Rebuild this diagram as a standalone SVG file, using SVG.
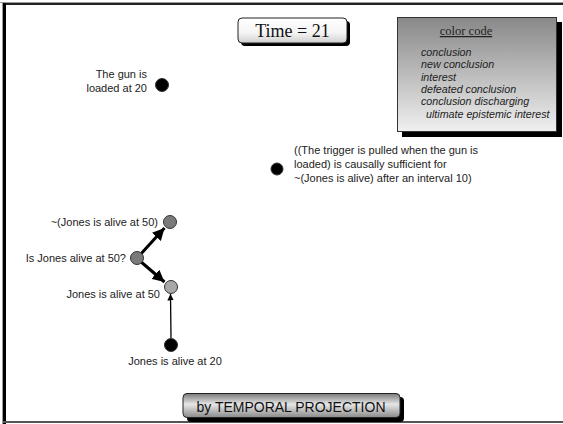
<svg xmlns="http://www.w3.org/2000/svg" width="563" height="424" viewBox="0 0 563 424">
  <style>
    .lbl { font-family: "Liberation Sans", Arial, sans-serif; font-size: 11px; fill: #222; }
    .key { font-family: "Liberation Sans", Arial, sans-serif; font-size: 10.7px; font-style: italic; fill: #222; }
    .dark { fill: #000; stroke: #333; stroke-width: 1; }
    .mid { fill: #7a7a7a; stroke: #333; stroke-width: 1; }
    .light { fill: #a8a8a8; stroke: #333; stroke-width: 1; }
    .thick { stroke: #000; stroke-width: 3; fill: none; }
    .thin { stroke: #000; stroke-width: 1.3; fill: none; }
  </style>
  <defs>
    <linearGradient id="keyFill" x1="0" y1="0" x2="0" y2="1">
      <stop offset="0" stop-color="#888888"/>
      <stop offset="1" stop-color="#f0f0f0"/>
    </linearGradient>
    <linearGradient id="timeFill" x1="0" y1="0" x2="0" y2="1">
      <stop offset="0" stop-color="#ffffff"/>
      <stop offset="0.6" stop-color="#f4f4f4"/>
      <stop offset="1" stop-color="#cfcfcf"/>
    </linearGradient>
    <linearGradient id="btnFill" x1="0" y1="0" x2="0" y2="1">
      <stop offset="0" stop-color="#7a7a7a"/>
      <stop offset="0.45" stop-color="#e6e6e6"/>
      <stop offset="1" stop-color="#8a8a8a"/>
    </linearGradient>
    <marker id="bigHead" viewBox="0 0 10 10" refX="10" refY="5" markerWidth="4" markerHeight="4" markerUnits="strokeWidth" orient="auto">
      <path d="M0,0 L10,5 L0,10 z" fill="#000"/>
    </marker>
    <marker id="smallHead" viewBox="0 0 10 10" refX="10" refY="5" markerWidth="5" markerHeight="5" markerUnits="strokeWidth" orient="auto">
      <path d="M0,0 L10,5 L0,10 z" fill="#000"/>
    </marker>
  </defs>

  <rect width="563" height="424" fill="#ffffff"/>

  <!-- slide frame -->
  <g id="frame">
    <line x1="0" y1="2.5" x2="563" y2="2.5" stroke="#9a9a9a" stroke-width="1"/>
    <line x1="4" y1="4" x2="563" y2="4" stroke="#222" stroke-width="2"/>
    <line x1="2.5" y1="2" x2="2.5" y2="424" stroke="#9a9a9a" stroke-width="1"/>
    <line x1="4.5" y1="3" x2="4.5" y2="424" stroke="#000" stroke-width="3"/>
    <line x1="3" y1="422" x2="563" y2="422" stroke="#555" stroke-width="2"/>
  </g>

  <!-- clock -->
  <g id="time">
    <rect x="241" y="21" width="109" height="25" rx="4" fill="#000"/>
    <rect x="238" y="18" width="109" height="25" rx="4" fill="url(#timeFill)" stroke="#222" stroke-width="1"/>
    <text x="292.5" y="37" text-anchor="middle" font-family="Liberation Serif, Times New Roman, serif" font-size="18" fill="#111">Time = 21</text>
  </g>

  <!-- color key -->
  <g id="legend">
    <rect x="402" y="22" width="160" height="115" fill="#000"/>
    <rect x="397.5" y="17.5" width="159" height="114" fill="url(#keyFill)" stroke="#333" stroke-width="1"/>
    <text x="466" y="35" text-anchor="middle" font-family="Liberation Serif, Times New Roman, serif" font-size="12.5" fill="#222" text-decoration="underline">color code</text>
    <text class="key" x="421" y="56">conclusion</text>
    <text class="key" x="421" y="68">new conclusion</text>
    <text class="key" x="421" y="81">interest</text>
    <text class="key" x="421" y="93">defeated conclusion</text>
    <text class="key" x="421" y="105">conclusion discharging</text>
    <text class="key" x="426" y="118">ultimate epistemic interest</text>
  </g>

  <!-- connectors -->
  <g id="connectors">
    <line class="thick" x1="139" y1="256" x2="164.5" y2="228" marker-end="url(#bigHead)"/>
    <line class="thick" x1="140" y1="261" x2="164.5" y2="282" marker-end="url(#bigHead)"/>
    <line class="thin" x1="171" y1="338" x2="170.5" y2="294" marker-end="url(#smallHead)"/>
  </g>

  <!-- nodes -->
  <g id="gun-loaded">
    <circle class="dark" cx="162" cy="85" r="6.5"/>
    <text class="lbl" x="147" y="78" text-anchor="end">The gun is</text>
    <text class="lbl" x="147" y="92" text-anchor="end">loaded at 20</text>
  </g>

  <g id="causal-law">
    <circle class="dark" cx="277" cy="169" r="6"/>
    <text class="lbl" x="294" y="154">((The trigger is pulled when the gun is</text>
    <text class="lbl" x="294" y="168">loaded) is causally sufficient for</text>
    <text class="lbl" x="294" y="182">~(Jones is alive) after an interval 10)</text>
  </g>

  <g id="not-alive-50">
    <circle class="mid" cx="170" cy="222" r="6.5"/>
    <text class="lbl" x="158" y="226" text-anchor="end">~(Jones is alive at 50)</text>
  </g>

  <g id="query-alive-50">
    <circle class="mid" cx="137" cy="258" r="6.5"/>
    <text class="lbl" x="126" y="262" text-anchor="end">Is Jones alive at 50?</text>
  </g>

  <g id="alive-50">
    <circle class="light" cx="171" cy="287" r="6.5"/>
    <text class="lbl" x="160" y="298" text-anchor="end">Jones is alive at 50</text>
  </g>

  <g id="alive-20">
    <circle class="dark" cx="171" cy="345" r="6.5"/>
    <text class="lbl" x="175" y="365" text-anchor="middle">Jones is alive at 20</text>
  </g>

  <!-- reasoning step banner -->
  <g id="banner">
    <rect x="187" y="397" width="217" height="25" rx="4" fill="#000"/>
    <rect x="183" y="393.5" width="217" height="24" rx="4" fill="url(#btnFill)" stroke="#222" stroke-width="1"/>
    <text x="291" y="412" text-anchor="middle" font-family="Liberation Sans, Arial, sans-serif" font-size="14" fill="#111">by TEMPORAL PROJECTION</text>
  </g>
</svg>
